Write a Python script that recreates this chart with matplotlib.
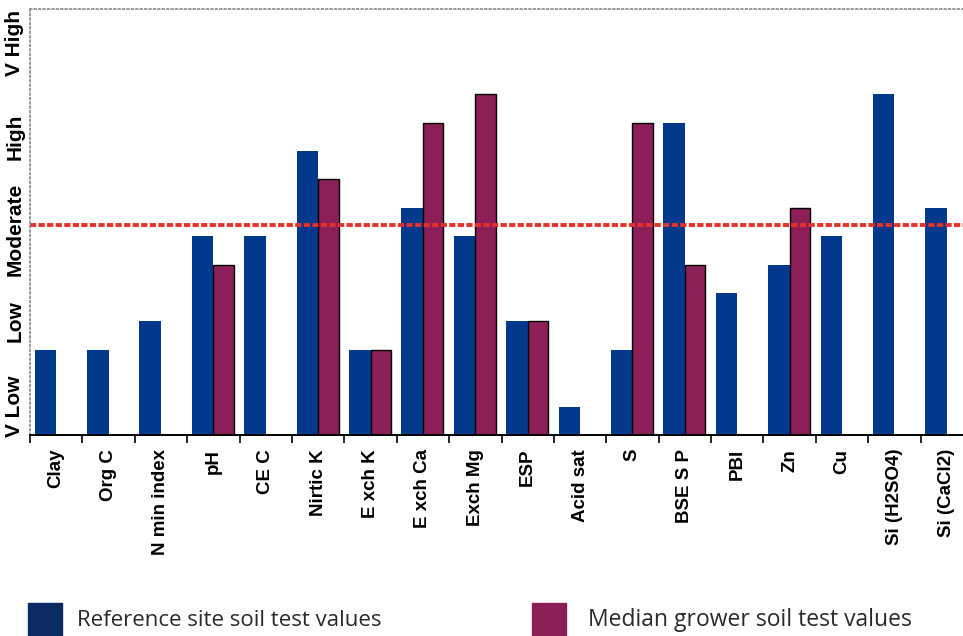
import matplotlib
matplotlib.use("Agg")
from matplotlib import pyplot as plt
import matplotlib.patches as mpatches
import numpy as np

# soil test parameters along the x axis
params = ['Clay', 'Org C', 'N min index', 'pH', 'CE C', 'Nirtic K', 'E xch K',
          'E xch Ca', 'Exch Mg', 'ESP', 'Acid sat', 'S', 'BSE S P', 'PBI',
          'Zn', 'Cu', 'Si (H2SO4)', 'Si (CaCl2)']

# rating scores (0-15 scale, 3 units per rating band); None = no grower value
reference_site = [3, 3, 4, 7, 7, 10, 3, 8, 7, 4, 1, 3, 11, 5, 6, 7, 12, 8]
median_grower = [None, None, None, 6, None, 9, 3, 11, 12, 4, None, 11, 6, None, 8, None, None, None]

rating_labels = ['V Low', 'Low', 'Moderate', 'High', 'V High']
rating_pos = [1.0, 4.0, 7.25, 10.5, 13.8]
target_level = 7.4

blue = '#03398c'
maroon = '#8c1f57'

fig = plt.figure(figsize=(9.63, 6.36), dpi=100)
ax = fig.add_axes([30/963, 201/636, 943/963, 426/636])

x = np.arange(len(params))
w = 0.41
ax.bar(x - w, reference_site, width=w, align='edge', color=blue, linewidth=0)
mg_x = [i for i, v in zip(x, median_grower) if v is not None]
mg_v = [v for v in median_grower if v is not None]
ax.bar(mg_x, mg_v, width=0.39, align='edge', color=maroon, edgecolor='black', linewidth=1.0)

ax.axhline(target_level, color='#e4322b', linewidth=2.8, dashes=(1.6, 0.6))

ax.set_xlim(-0.5, len(params) - 0.5)
ax.set_ylim(0, 15)

# ticks at the category boundaries, labels at the centres
ax.set_xticks(np.arange(len(params) + 1) - 0.5)
ax.set_xticklabels([])
ax.set_xticks(x, minor=True)
ax.set_xticklabels(params, minor=True, rotation=90, fontsize=13.5,
                   fontweight='bold', family='Liberation Sans', va='top', ha='center')
ax.tick_params(axis='x', which='major', length=6, width=1.2, color='black')
ax.tick_params(axis='x', which='minor', length=0, pad=10)

ax.set_yticks(rating_pos)
ax.set_yticklabels(rating_labels, rotation=90, va='center', fontsize=15,
                   fontweight='bold', family='Liberation Sans')
ax.tick_params(axis='y', length=0, pad=4)

for s in ['top', 'left']:
    ax.spines[s].set_color('#8a8a8a')
    ax.spines[s].set_linestyle(':')
    ax.spines[s].set_linewidth(1.2)
ax.spines['right'].set_visible(False)
ax.spines['bottom'].set_color('black')
ax.spines['bottom'].set_linewidth(1.4)

# legend boxes below the chart
fig.patches.append(mpatches.Rectangle((28/963, 0), 34/963, 33/636, color='#0b2c63',
                                      transform=fig.transFigure, figure=fig))
fig.patches.append(mpatches.Rectangle((532/963, 0), 34/963, 33/636, color='#8a1f55',
                                      transform=fig.transFigure, figure=fig))
fig.text(77/963, 16/636, 'Reference site soil test values', fontsize=16,
         family='Open Sans', va='center', ha='left', color='#2a2a2a')
fig.text(588/963, 16/636, 'Median grower soil test values', fontsize=16.5,
         family='Open Sans', va='center', ha='left', color='#2a2a2a')

fig.savefig('out.png', dpi=100)
